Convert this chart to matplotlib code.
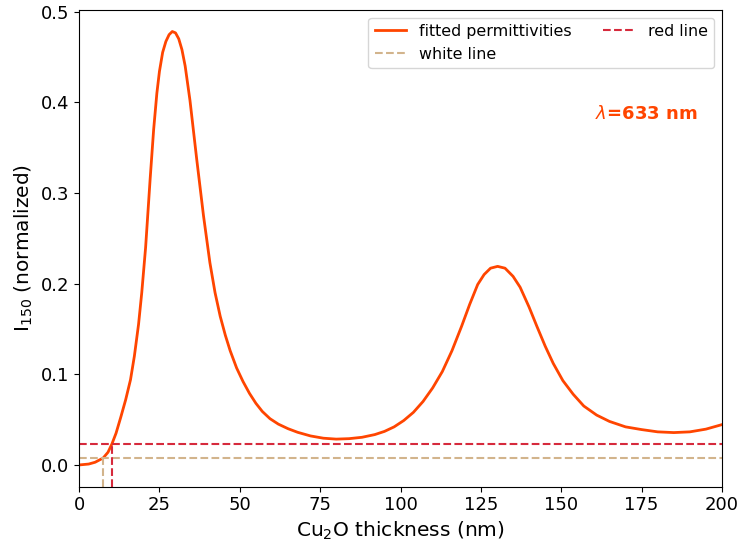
import matplotlib
matplotlib.use("Agg")
import matplotlib.pyplot as plt

# Cu2O thickness (nm) and normalized intensity
thickness = [0, 3, 5, 7.5, 9, 10.2, 11.5, 13, 14.5, 16, 17.2, 18.5, 19.5, 20.7,
             22.1, 23.2, 24.2, 25, 26, 27, 28, 29, 30, 31, 32, 33, 34.5, 36.6,
             38.7, 40.7, 42.3, 43.9, 45.5, 47, 49, 51, 53, 55, 57, 59.4, 62,
             65, 68, 72, 76, 80, 84, 88, 92, 95, 98, 101, 104, 107, 110, 113,
             116, 119, 121.5, 124, 126, 128, 130.2, 132.5, 135, 137.2, 140,
             142.4, 145, 147.5, 150.5, 153.7, 157, 161, 165, 170, 175, 180,
             185, 190, 195, 200]
intensity = [0.0, 0.001, 0.003, 0.0077, 0.014, 0.023, 0.035, 0.053, 0.072,
             0.094, 0.120, 0.155, 0.190, 0.240, 0.315, 0.370, 0.410, 0.434,
             0.455, 0.467, 0.4745, 0.478, 0.4765, 0.470, 0.458, 0.440, 0.402,
             0.337, 0.275, 0.223, 0.190, 0.164, 0.143, 0.126, 0.107, 0.092,
             0.079, 0.068, 0.059, 0.051, 0.045, 0.040, 0.036, 0.032, 0.0295,
             0.0285, 0.029, 0.0305, 0.0335, 0.037, 0.042, 0.049, 0.058, 0.070,
             0.085, 0.103, 0.126, 0.153, 0.177, 0.199, 0.210, 0.217, 0.219,
             0.217, 0.208, 0.196, 0.174, 0.153, 0.131, 0.112, 0.093, 0.078,
             0.065, 0.055, 0.048, 0.042, 0.039, 0.0365, 0.0357, 0.0365,
             0.0395, 0.0445]

red_level = 0.023
white_level = 0.0077
red_x = 10.2
white_x = 7.5

fig = plt.figure(figsize=(7.39, 5.42), dpi=100)
ax = fig.add_axes([0.107, 0.102, 0.870, 0.880])

ymin, ymax = -0.024, 0.502

ax.plot(thickness, intensity, color='orangered', lw=2, label='fitted permittivities')
ax.axhline(white_level, color='tan', ls='--', lw=1.5, label='white line')
ax.axhline(red_level, color='#d62a3c', ls='--', lw=1.5, label='red line')
ax.plot([white_x, white_x], [ymin, white_level], color='tan', ls='--', lw=1.5)
ax.plot([red_x, red_x], [ymin, red_level], color='#d62a3c', ls='--', lw=1.5)

ax.set_xlim(0, 200)
ax.set_ylim(ymin, ymax)
ax.set_xticks([0, 25, 50, 75, 100, 125, 150, 175, 200])
ax.set_yticks([0.0, 0.1, 0.2, 0.3, 0.4, 0.5])
ax.tick_params(labelsize=13)

ax.set_xlabel('Cu$_2$O thickness (nm)', fontsize=14.5)
ax.set_ylabel('I$_{150}$ (normalized)', fontsize=14.5)

ax.text(160.5, 0.387, r'$\lambda$=633 nm', color='orangered', fontsize=13,
        fontweight='bold', va='center')

ax.legend(loc='upper right', ncol=2, fontsize=11.4)

fig.savefig('out.png', dpi=100)
